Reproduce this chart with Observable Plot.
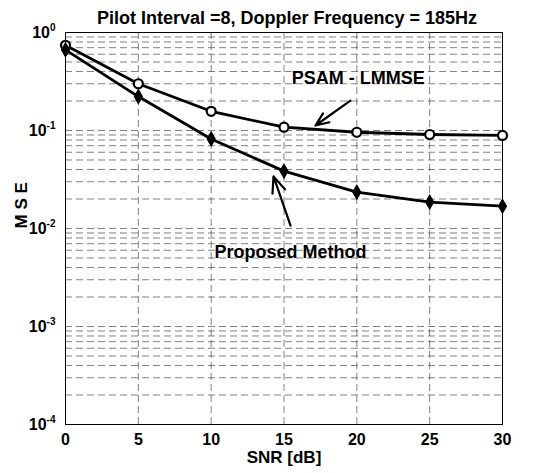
<!DOCTYPE html>
<html><head><meta charset="utf-8">
<script src="https://cdn.jsdelivr.net/npm/d3@7"></script>
<script src="https://cdn.jsdelivr.net/npm/@observablehq/plot@0.6"></script>
<style>body{margin:0;background:#fff}svg{font-family:"Liberation Sans",Arial,sans-serif}</style>
</head><body><div id="chart"></div>
<script>
const snr = [0, 5, 10, 15, 20, 25, 30];
const psamLmmse = [0.74, 0.30, 0.157, 0.108, 0.096, 0.091, 0.089];
const proposed = [0.665, 0.222, 0.082, 0.0385, 0.0235, 0.0186, 0.0169];
const xTicks = [0, 5, 10, 15, 20, 25, 30];
const yDecades = [1e-4, 1e-3, 1e-2, 1e-1, 1];
const title = "Pilot Interval =8, Doppler Frequency = 185Hz";
const xLabel = "SNR [dB]";
const yLabel = "M S E";
const labels = [
  {text: "PSAM - LMMSE", x: 20.1, y: 0.34},
  {text: "Proposed Method", x: 15.45, y: 0.0057}
];
const arrows = [
  {x1: 19.56, y1: 0.202, x2: 17.16, y2: 0.1125},
  {x1: 15.45, y1: 0.0107, x2: 14.28, y2: 0.034}
];

const minor = [];
for (let k = -4; k < 0; k++) for (let m = 1; m <= 9; m++) minor.push(m * Math.pow(10, k));
minor.push(1);

const rows1 = snr.map((x, i) => ({x, y: psamLmmse[i]}));
const rows2 = snr.map((x, i) => ({x, y: proposed[i]}));

const plot = Plot.plot({
  width: 540, height: 473,
  marginTop: 32, marginBottom: 49, marginLeft: 65, marginRight: 38,
  style: {fontFamily: "Liberation Sans, Arial, sans-serif", fontWeight: "bold", color: "#000"},
  x: {domain: [0, 30], ticks: xTicks},
  y: {type: "log", domain: [1e-4, 1]},
  marks: [
    Plot.gridY(minor, {stroke: "#444", strokeOpacity: 0.85, strokeWidth: 0.8, strokeDasharray: "7,4"}),
    Plot.gridX(xTicks, {stroke: "#444", strokeOpacity: 0.85, strokeWidth: 0.8, strokeDasharray: "7,4"}),
    Plot.frame({stroke: "#000", strokeWidth: 1}),
    Plot.axisX(xTicks, {tickSize: 0, tickPadding: 9, fontSize: 16, fontWeight: "bold", label: null, tickFormat: d => String(d)}),
    Plot.axisY(yDecades, {tickSize: 0, tickPadding: 10, fontSize: 16, fontWeight: "bold", label: null, tickFormat: d => "10|" + Math.round(Math.log10(d))}),
    Plot.text([xLabel], {frameAnchor: "bottom", dy: 38, fontSize: 17, fontWeight: "bold"}),
    Plot.text([yLabel], {frameAnchor: "left", dx: -44, rotate: -90, fontSize: 17, fontWeight: "bold"}),
    Plot.text([title], {frameAnchor: "top", dy: -21, dx: 3, fontSize: 18, fontWeight: "bold"}),
    Plot.line(rows1, {x: "x", y: "y", stroke: "#000", strokeWidth: 2.8}),
    Plot.line(rows2, {x: "x", y: "y", stroke: "#000", strokeWidth: 2.8}),
    Plot.dot(rows1, {x: "x", y: "y", r: 4.5, stroke: "#000", strokeWidth: 2.2, fill: "#fff"}),
    Plot.dot(rows2, {x: "x", y: "y", r: 4, symbol: "diamond", fill: "#000", stroke: "#000"}),
    Plot.arrow(arrows, {x1: "x1", y1: "y1", x2: "x2", y2: "y2", stroke: "#000", strokeWidth: 2.2, headLength: 12, headAngle: 45}),
    Plot.text(labels, {x: "x", y: "y", text: "text", fontSize: 18, fontWeight: "bold", fill: "#000"})
  ]
});
document.getElementById("chart").appendChild(plot);
// render superscript exponents on the y-axis labels
d3.select(plot).selectAll("text").each(function() {
  const t = this.textContent;
  if (/^10\|-?\d+$/.test(t)) {
    const e = t.split("|")[1];
    const sel = d3.select(this);
    const tspans = sel.selectAll("tspan");
    const host = tspans.empty() ? sel : d3.select(tspans.nodes()[0]);
    host.text("10");
    host.append("tspan").attr("dy", "-0.65em").attr("font-size", "10px").text(e);
  }
});
</script></body></html>
